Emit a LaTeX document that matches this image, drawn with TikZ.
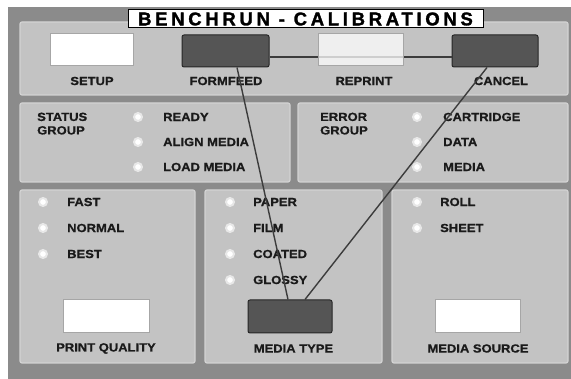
\documentclass[tikz,border=0pt]{standalone}
\usepackage{fontspec}
\newfontfamily\labfont{Liberation Sans}[FakeStretch=1.1,BoldFeatures={FakeBold=0.8}]
\newfontfamily\titlefont{Liberation Sans}[LetterSpace=20,BoldFeatures={FakeBold=1.6}]
\definecolor{bgdark}{HTML}{8B8B8B}
\definecolor{panelc}{HTML}{C3C3C3}
\definecolor{paneledge}{HTML}{D3D3D3}
\definecolor{btndark}{HTML}{555555}
\definecolor{txt}{HTML}{1A1A1A}
\definecolor{wire}{HTML}{3C3C3C}
\begin{document}
\begin{tikzpicture}[x=1pt,y=-1pt,
  panel/.style={rectangle,fill=panelc,draw=paneledge,line width=1.2pt,rounded corners=2pt,inner sep=0pt},
  whitebtn/.style={rectangle,fill=white,draw=gray!70,line width=0.8pt,inner sep=0pt,minimum width=85pt,minimum height=32pt},
  darkbtn/.style={rectangle,fill=btndark,draw=black!85,line width=1pt,rounded corners=2pt,inner sep=0pt,minimum width=86pt,minimum height=32pt},
  lab/.style={text=txt,font=\labfont\bfseries\fontsize{11.8}{12.5}\selectfont,inner sep=0pt},
  ledlab/.style={lab,anchor=west},
  grouplab/.style={lab,anchor=north west,align=left,font=\labfont\bfseries\fontsize{11.8}{13.5}\selectfont},
  led/.style={circle,fill=white,draw=white!60!panelc,line width=2pt,minimum size=8pt,inner sep=0pt},
  wireline/.style={draw=wire,line width=1.4pt}
]
\useasboundingbox (0,0) rectangle (571,379);
\fill[white] (0,0) rectangle (571,379);
\fill[bgdark] (8,7) rectangle (571,379);

% panels
\node[panel,minimum width=548pt,minimum height=73pt] (ptop) at (294,58.5) {};
\node[panel,minimum width=270pt,minimum height=79pt] (pstatus) at (155,142.5) {};
\node[panel,minimum width=270pt,minimum height=79pt] (perror) at (433,142.5) {};
\node[panel,minimum width=175pt,minimum height=173pt] (ppq) at (107.5,276.5) {};
\node[panel,minimum width=177pt,minimum height=173pt] (pmt) at (293.5,276.5) {};
\node[panel,minimum width=176pt,minimum height=173pt] (pms) at (480,276.5) {};

% title
\node[rectangle,fill=white,draw=black,line width=1pt,minimum width=355pt,minimum height=18pt,inner sep=0pt,
      font=\titlefont\bfseries\fontsize{18.5}{18}\selectfont,text=black] (title) at (305.5,19) {BENCHRUN - CALIBRATIONS};

% top buttons
\node[whitebtn,minimum width=83pt] (setup) at (91.5,49) {};
\node[darkbtn,minimum width=87pt] (ff) at (225.5,51) {};
\node[darkbtn] (cancel) at (495,51) {};
\draw[wireline] ([yshift=-6pt]ff.east) -- ([yshift=-6pt]cancel.west);
\node[whitebtn,fill opacity=0.75] (reprint) at (360.5,49) {};
\node[lab] (lsetup) at (92,81) {SETUP};
\node[lab] (lff) at (226,81) {FORMFEED};
\node[lab] (lreprint) at (364,81) {REPRINT};
\node[lab] (lcancel) at (501,81) {CANCEL};

% status group
\node[grouplab] (gstatus) at (37,112.5) {STATUS\\GROUP};
\node[led] (s1) at (138,117) {};
\node[led] (s2) at (138,142) {};
\node[led] (s3) at (138,167) {};
\node[ledlab] (ls1) at (163,117) {READY};
\node[ledlab] (ls2) at (163,142) {ALIGN MEDIA};
\node[ledlab] (ls3) at (163,167) {LOAD MEDIA};

% error group
\node[grouplab] (gerror) at (320,112.5) {ERROR\\GROUP};
\node[led] (e1) at (417,117) {};
\node[led] (e2) at (417,142) {};
\node[led] (e3) at (417,167) {};
\node[ledlab] (le1) at (443,117) {CARTRIDGE};
\node[ledlab] (le2) at (443,142) {DATA};
\node[ledlab] (le3) at (443,167) {MEDIA};

% print quality
\node[led] (q1) at (43,202) {};
\node[led] (q2) at (43,228) {};
\node[led] (q3) at (43,254) {};
\node[ledlab] (lq1) at (67,202) {FAST};
\node[ledlab] (lq2) at (67,228) {NORMAL};
\node[ledlab] (lq3) at (67,254) {BEST};
\node[whitebtn,minimum width=86pt,minimum height=33pt] (pqbtn) at (106,315.5) {};
\node[lab] (lpq) at (106,348.5) {PRINT QUALITY};

% media type
\node[led] (m1) at (230,202) {};
\node[led] (m2) at (230,228) {};
\node[led] (m3) at (230,254) {};
\node[led] (m4) at (230,280) {};
\node[ledlab] (lm1) at (253,202) {PAPER};
\node[ledlab] (lm2) at (253,228) {FILM};
\node[ledlab] (lm3) at (253,254) {COATED};
\node[ledlab] (lm4) at (253,280) {GLOSSY};
\node[darkbtn,minimum width=84pt,minimum height=33pt] (mtbtn) at (290,316.5) {};
\node[lab] (lmt) at (293.5,348.5) {MEDIA TYPE};

% media source
\node[led] (r1) at (417,202) {};
\node[led] (r2) at (417,228) {};
\node[ledlab] (lr1) at (440,202) {ROLL};
\node[ledlab] (lr2) at (440,228) {SHEET};
\node[whitebtn,minimum width=85pt,minimum height=33pt] (msbtn) at (477.5,315.5) {};
\node[lab] (lms) at (478,348.5) {MEDIA SOURCE};

% connectors
\draw[wireline] ([xshift=11.5pt]ff.south) -- ([xshift=-2pt]mtbtn.north);
\draw[wireline] ([xshift=-8pt]cancel.south) -- ([xshift=15pt]mtbtn.north);
\end{tikzpicture}
\end{document}
